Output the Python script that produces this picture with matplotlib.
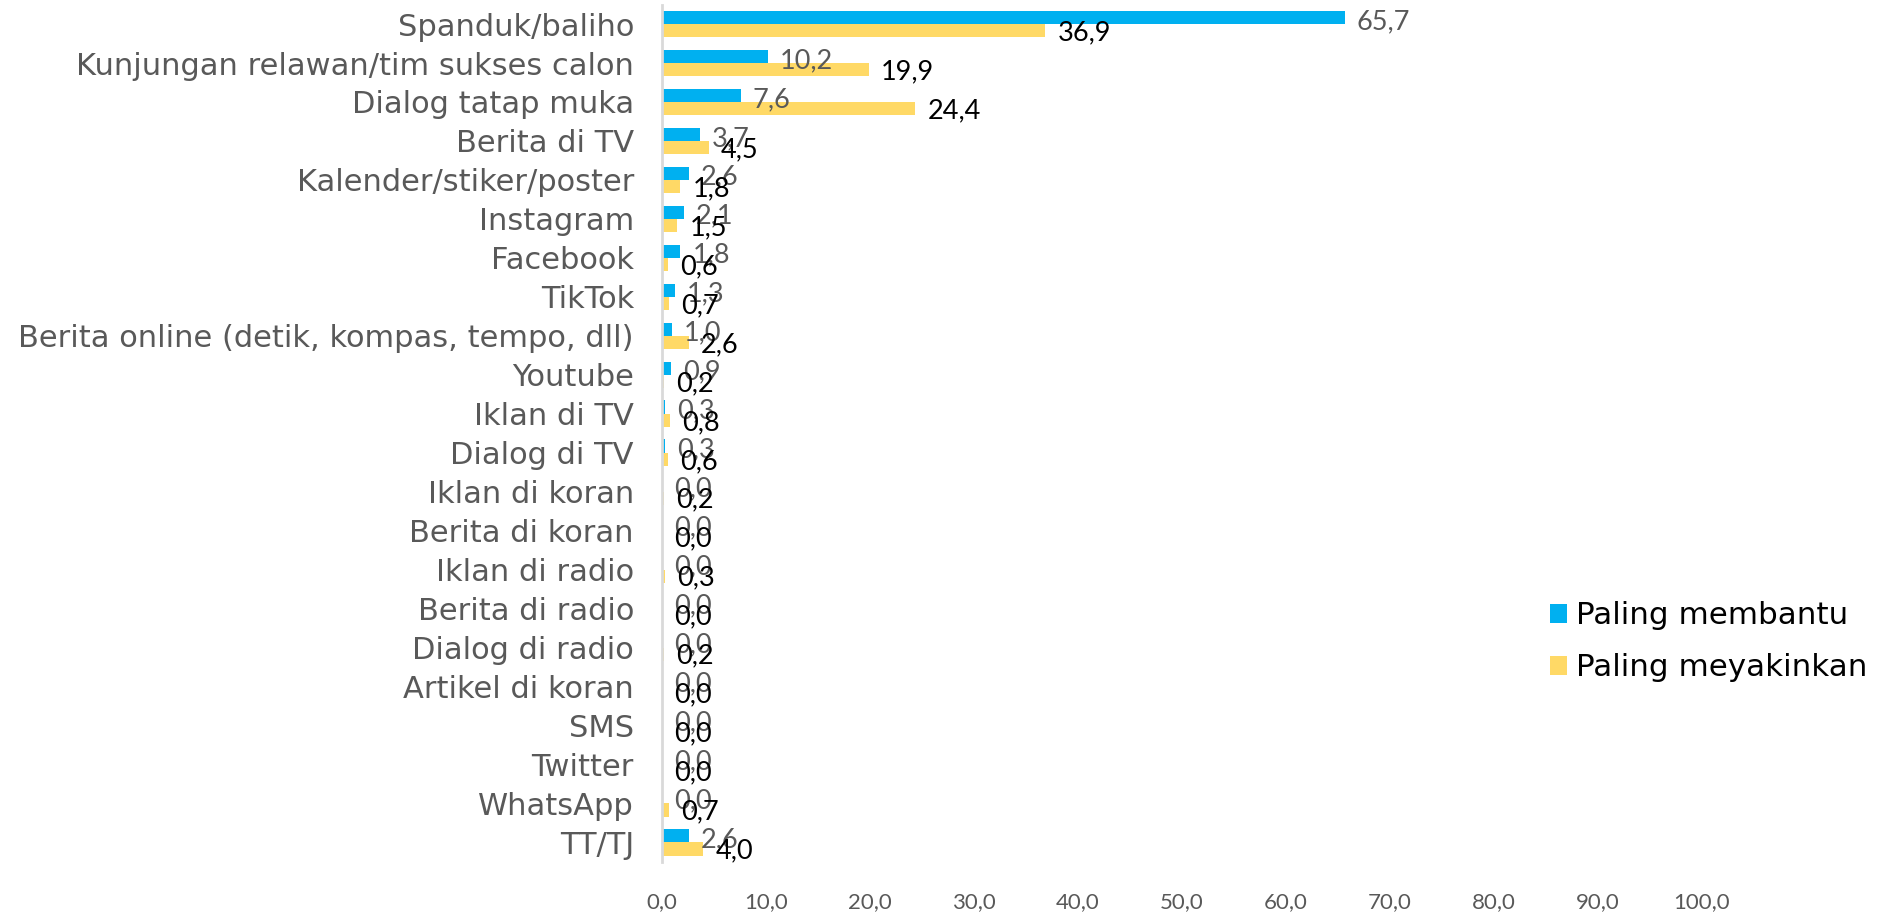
import numpy as np
import matplotlib
matplotlib.use('AGG')
import matplotlib.pyplot as plt

categories = ['Spanduk/baliho', 'Kunjungan relawan/tim sukses calon', 'Dialog tatap muka',
              'Berita di TV', 'Kalender/stiker/poster', 'Instagram', 'Facebook', 'TikTok',
              'Berita online (detik, kompas, tempo, dll)', 'Youtube', 'Iklan di TV',
              'Dialog di TV', 'Iklan di koran', 'Berita di koran', 'Iklan di radio',
              'Berita di radio', 'Dialog di radio', 'Artikel di koran', 'SMS', 'Twitter',
              'WhatsApp', 'TT/TJ']
membantu = [65.7, 10.2, 7.6, 3.7, 2.6, 2.1, 1.8, 1.3, 1.0, 0.9, 0.3,
            0.3, 0.0, 0.0, 0.0, 0.0, 0.0, 0.0, 0.0, 0.0, 0.0, 2.6]
meyakinkan = [36.9, 19.9, 24.4, 4.5, 1.8, 1.5, 0.6, 0.7, 2.6, 0.2, 0.8,
              0.6, 0.2, 0.0, 0.3, 0.0, 0.2, 0.0, 0.0, 0.0, 0.7, 4.0]
xticks = np.arange(0, 101, 10)

plt.rcParams['font.family'] = ['Lato', 'DejaVu Sans']
blue = '#00B0F0'
yellow = '#FFD966'
gray = '#595959'


def fmt(v):
    return '{:.1f}'.format(v).replace('.', ',')


fig = plt.figure(figsize=(18.8, 9.13), dpi=100)
ax = fig.add_axes([0.352, 0.056, 0.553, 0.939])

y = np.arange(len(categories))
h = 0.34
ax.barh(y - h / 2, membantu, height=h, color=blue, label='Paling membantu')
ax.barh(y + h / 2, meyakinkan, height=h, color=yellow, label='Paling meyakinkan')

for yi, v in zip(y, membantu):
    ax.annotate(fmt(v), (v, yi - h / 2), xytext=(12, -4), textcoords='offset pixels',
                ha='left', va='center', fontsize=19.5, color=gray)
for yi, v in zip(y, meyakinkan):
    ax.annotate(fmt(v), (v, yi + h / 2), xytext=(12, -2), textcoords='offset pixels',
                ha='left', va='center', fontsize=19.5, color='black')

ax.set_ylim(len(categories) - 0.5, -0.5)
ax.set_xlim(0, 100)
ax.set_yticks(y)
ax.set_yticklabels(categories, fontsize=22, color=gray, family='DejaVu Sans')
ax.set_xticks(xticks)
ax.set_xticklabels([fmt(t) for t in xticks], fontsize=16, color=gray)
ax.tick_params(axis='both', length=0)
ax.tick_params(axis='y', pad=20)
ax.tick_params(axis='x', pad=22)
for s in ['top', 'right', 'bottom']:
    ax.spines[s].set_visible(False)
ax.spines['left'].set_color('#D9D9D9')
ax.spines['left'].set_linewidth(2)

ax.legend(loc='center left', bbox_to_anchor=(1550 / 1880, 0.297), bbox_transform=fig.transFigure,
          frameon=False, prop={'family': 'DejaVu Sans', 'size': 22.3}, handlelength=0.55,
          handleheight=0.55, handletextpad=0.3, labelspacing=0.75, borderpad=0, borderaxespad=0)

plt.savefig('out.png', dpi=100)
